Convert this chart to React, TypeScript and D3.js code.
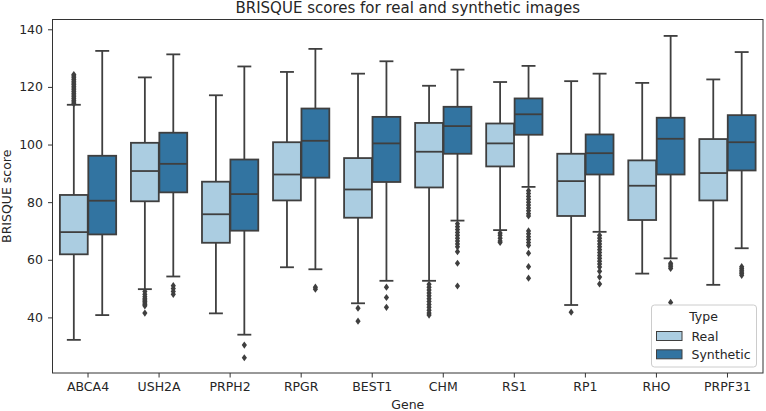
import { useEffect, useRef } from 'react'
import * as d3 from 'd3'

const genes = ['ABCA4', 'USH2A', 'PRPH2', 'RPGR', 'BEST1', 'CHM', 'RS1', 'RP1', 'RHO', 'PRPF31']
const types = ['Real', 'Synthetic']
const yTicks = [40, 60, 80, 100, 120, 140]

// Real images: box stats per gene
const realLow = [32.2, 49.8, 41.4, 57.4, 44.9, 52.7, 70.3, 44.3, 55.2, 51.3]
const realQ1 = [61.9, 80.3, 65.9, 80.6, 74.6, 85.1, 92.4, 75.2, 73.8, 80.6]
const realMedian = [69.6, 90.8, 75.8, 89.6, 84.4, 97.5, 100.4, 87.3, 85.7, 90.1]
const realQ3 = [82.5, 100.6, 87.1, 100.8, 95.3, 107.5, 107.3, 96.8, 94.5, 101.9]
const realHigh = [113.8, 123.3, 117.1, 125.2, 124.6, 120.4, 121.7, 122, 121.4, 122.6]
const realOutliers = [
  [114.2, 114.8, 115.4, 116, 116.6, 117.2, 117.8, 118.4, 119, 119.6, 120.2, 120.8, 121.4, 122, 122.6, 123.2, 123.8, 124.3],
  [49, 48, 47.2, 46.5, 46, 45.5, 45, 44.5, 44, 41.5],
  [],
  [],
  [43.2, 38.7],
  [51.5, 50.5, 49.5, 48.5, 47.5, 46.5, 45.5, 44.5, 43.5, 42.5, 41.5, 40.8],
  [69.3, 68.5, 67.5, 66.5, 66],
  [41.8],
  [],
  [],
]

// Synthetic images: box stats per gene
const synLow = [40.8, 54.2, 34, 56.7, 52.7, 73.6, 85.3, 69.7, 60.5, 64]
const synQ1 = [68.8, 83.4, 70.1, 88.5, 87, 96.8, 103.4, 89.6, 89.6, 91]
const synMedian = [80.5, 93.3, 82.8, 101.3, 100.4, 106.4, 110.5, 97, 102, 100.8]
const synQ3 = [96.1, 104.1, 94.8, 112.5, 109.6, 113.1, 116, 103.5, 109.3, 110.2]
const synHigh = [132.5, 131.3, 127.1, 133.2, 128.9, 126, 127.3, 124.6, 137.7, 132.1]
const synOutliers = [
  [],
  [51, 50, 49, 48],
  [30.4, 26],
  [50.5, 49.8],
  [50.5, 46.9, 43.5],
  [72.5, 71.5, 70.5, 69.5, 68.5, 67.5, 66.5, 65.5, 64.5, 62.8, 58.8, 50.9],
  [84, 83, 82, 81, 80, 79, 78, 77, 76, 75.2, 70, 69, 68, 67, 66, 65, 62.3, 57.6, 53.6],
  [68.5, 67.5, 66.5, 65.5, 64.5, 63.5, 62.5, 61.5, 60.5, 59.5, 58.5, 57.5, 56, 54, 51.6],
  [58.8, 58.2, 57.6, 57, 45.2],
  [57.6, 57, 56.4, 55.8, 55.2, 54.6],
]

const colors = ['#abcde1', '#3274a1']
const lineColor = '#3f3f3f'

const App = () => {
  const ref = useRef<SVGSVGElement>(null)

  useEffect(() => {
    if (!ref.current) return
    const svg = d3.select(ref.current)
    svg.selectAll('*').remove()

    const W = 766
    const H = 411
    const margin = { top: 19.5, right: 3, bottom: 38, left: 52.5 }
    const width = W - margin.left - margin.right
    const height = H - margin.top - margin.bottom
    const font = 'DejaVu Sans, sans-serif'
    const fs = '12.5px'

    const g = svg.append('g').attr('transform', `translate(${margin.left},${margin.top})`)

    const x = d3.scaleBand().domain(genes).range([0, width]).padding(0)
    const y = d3.scaleLinear().domain([20.7, 143.4]).range([height, 0])
    const sub = d3.scaleBand().domain(types).range([0, x.bandwidth() * 0.8])
    const offset = x.bandwidth() * 0.1

    const series = [
      { low: realLow, q1: realQ1, med: realMedian, q3: realQ3, high: realHigh, out: realOutliers },
      { low: synLow, q1: synQ1, med: synMedian, q3: synQ3, high: synHigh, out: synOutliers },
    ]

    const diamond = 'M0,-3.6L2.6,0L0,3.6L-2.6,0Z'

    series.forEach((s, ti) => {
      genes.forEach((gene, i) => {
        const bw = sub.bandwidth() * 0.98
        const x0 = (x(gene) as number) + offset + (sub(types[ti]) as number) + sub.bandwidth() * 0.01
        const cx = x0 + bw / 2
        const capW = bw / 2
        const box = g.append('g')

        // whiskers
        box.append('line')
          .attr('x1', cx).attr('x2', cx)
          .attr('y1', y(s.q3[i])).attr('y2', y(s.high[i]))
          .attr('stroke', lineColor).attr('stroke-width', 1.8)
        box.append('line')
          .attr('x1', cx).attr('x2', cx)
          .attr('y1', y(s.q1[i])).attr('y2', y(s.low[i]))
          .attr('stroke', lineColor).attr('stroke-width', 1.8)
        // caps
        ;[s.high[i], s.low[i]].forEach(v => {
          box.append('line')
            .attr('x1', cx - capW / 2).attr('x2', cx + capW / 2)
            .attr('y1', y(v)).attr('y2', y(v))
            .attr('stroke', lineColor).attr('stroke-width', 1.8)
        })
        // box
        box.append('rect')
          .attr('x', x0)
          .attr('y', y(s.q3[i]))
          .attr('width', bw)
          .attr('height', y(s.q1[i]) - y(s.q3[i]))
          .attr('fill', colors[ti])
          .attr('stroke', lineColor)
          .attr('stroke-width', 1.8)
        // median
        box.append('line')
          .attr('x1', x0).attr('x2', x0 + bw)
          .attr('y1', y(s.med[i])).attr('y2', y(s.med[i]))
          .attr('stroke', lineColor).attr('stroke-width', 1.8)
        // outliers
        box.selectAll('path.out')
          .data(s.out[i])
          .enter()
          .append('path')
          .attr('class', 'out')
          .attr('d', diamond)
          .attr('transform', d => `translate(${cx},${y(d)})`)
          .attr('fill', lineColor)
      })
    })

    // frame
    g.append('rect')
      .attr('x', 0).attr('y', 0)
      .attr('width', width).attr('height', height)
      .attr('fill', 'none')
      .attr('stroke', '#333')
      .attr('stroke-width', 1)

    // Y axis
    const yAxis = g.append('g')
      .call(d3.axisLeft(y).tickValues(yTicks).tickSize(4.5).tickPadding(5))
    yAxis.select('.domain').remove()
    yAxis.selectAll('line').attr('stroke', '#333')
    yAxis.selectAll('text')
      .style('font-family', font)
      .style('font-size', fs)
      .style('fill', '#262626')

    // X axis
    const xAxis = g.append('g')
      .attr('transform', `translate(0,${height})`)
      .call(d3.axisBottom(x).tickSize(4.5).tickPadding(5))
    xAxis.select('.domain').remove()
    xAxis.selectAll('line').attr('stroke', '#333')
    xAxis.selectAll('text')
      .style('font-family', font)
      .style('font-size', fs)
      .style('fill', '#262626')

    // labels
    svg.append('text')
      .attr('x', margin.left + width / 2)
      .attr('y', 13)
      .attr('text-anchor', 'middle')
      .style('font-family', font)
      .style('font-size', '15px')
      .style('fill', '#262626')
      .text('BRISQUE scores for real and synthetic images')

    svg.append('text')
      .attr('x', margin.left + width / 2)
      .attr('y', 409)
      .attr('text-anchor', 'middle')
      .style('font-family', font)
      .style('font-size', fs)
      .style('fill', '#262626')
      .text('Gene')

    svg.append('text')
      .attr('transform', `translate(11,${margin.top + height / 2}) rotate(-90)`)
      .attr('text-anchor', 'middle')
      .style('font-family', font)
      .style('font-size', fs)
      .style('fill', '#262626')
      .text('BRISQUE score')

    // legend
    const lg = svg.append('g').attr('transform', 'translate(651.5,305)')
    lg.append('rect')
      .attr('width', 105).attr('height', 62)
      .attr('rx', 3)
      .attr('fill', 'white').attr('fill-opacity', 0.8)
      .attr('stroke', '#cccccc')
    lg.append('text')
      .attr('x', 52).attr('y', 15.5)
      .attr('text-anchor', 'middle')
      .style('font-family', font)
      .style('font-size', fs)
      .style('fill', '#262626')
      .text('Type')
    types.forEach((t, i) => {
      lg.append('rect')
        .attr('x', 5).attr('y', 26.5 + i * 18.3)
        .attr('width', 25.5).attr('height', 9)
        .attr('fill', colors[i])
        .attr('stroke', lineColor)
        .attr('stroke-width', 1)
      lg.append('text')
        .attr('x', 40).attr('y', 35.5 + i * 18.3)
        .style('font-family', font)
        .style('font-size', fs)
        .style('fill', '#262626')
        .text(t)
    })
  }, [])

  return (
    <div style={{ position: 'absolute', left: 0, top: 0 }}>
      <svg ref={ref} width={766} height={411} style={{ display: 'block', background: 'white' }} />
    </div>
  )
}

export default App
